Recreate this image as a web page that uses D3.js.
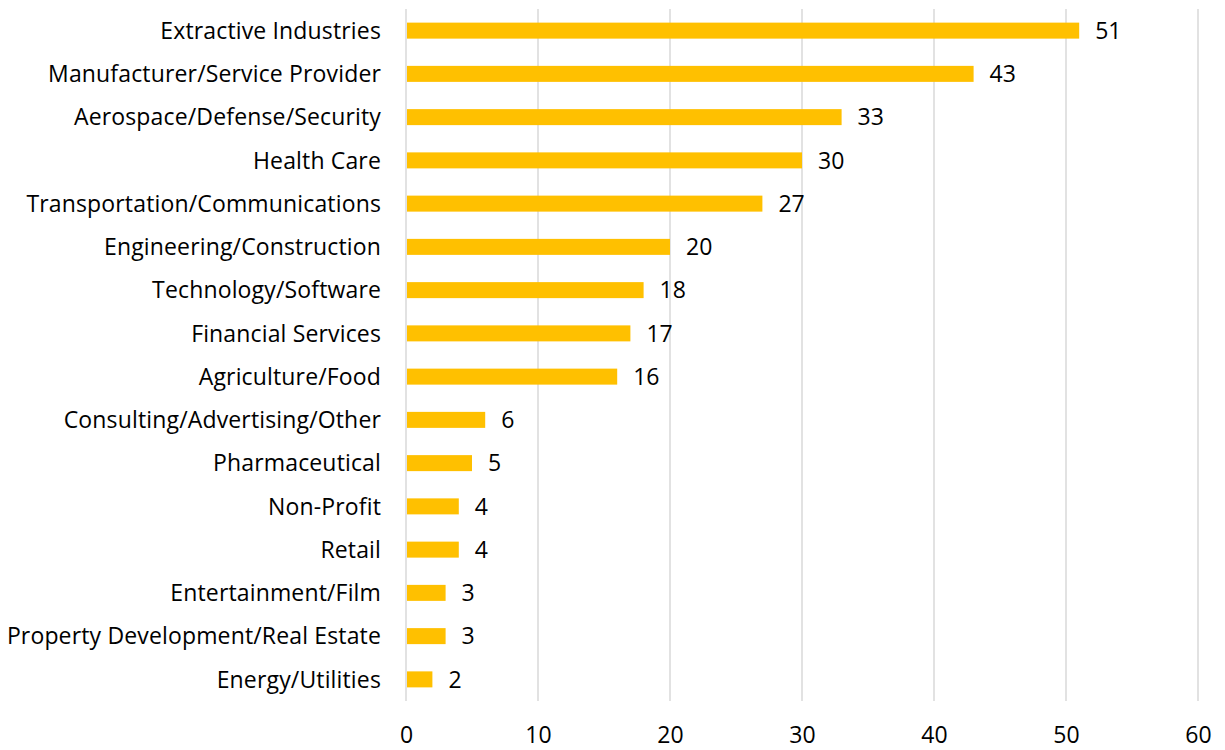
<!DOCTYPE html>
<html>
<head>
<meta charset="utf-8">
<script src="https://cdn.jsdelivr.net/npm/d3@7"></script>
<style>
  body { margin: 0; background: #fff; }
  text { font-family: "Open Sans", "Lato", sans-serif; fill: #000; }
</style>
</head>
<body>
<svg id="chart" width="1225" height="750"></svg>
<script>
// data
var categories = ["Extractive Industries", "Manufacturer/Service Provider", "Aerospace/Defense/Security",
  "Health Care", "Transportation/Communications", "Engineering/Construction", "Technology/Software",
  "Financial Services", "Agriculture/Food", "Consulting/Advertising/Other", "Pharmaceutical",
  "Non-Profit", "Retail", "Entertainment/Film", "Property Development/Real Estate", "Energy/Utilities"];
var values = [51, 43, 33, 30, 27, 20, 18, 17, 16, 6, 5, 4, 4, 3, 3, 2];
var xTicks = [0, 10, 20, 30, 40, 50, 60];

var svg = d3.select("#chart");
var plotLeft = 406, plotRight = 1198, plotTop = 9, plotBottom = 701;

var x = d3.scaleLinear().domain([0, 60]).range([plotLeft, plotRight]);
var y = d3.scaleBand().domain(categories).range([plotTop, plotBottom]).paddingInner(0.63).paddingOuter(0.315);

// gridlines
svg.append("g").selectAll("line")
  .data(xTicks)
  .enter().append("line")
  .attr("x1", function(d) { return x(d); })
  .attr("x2", function(d) { return x(d); })
  .attr("y1", plotTop)
  .attr("y2", plotBottom)
  .attr("stroke", "#d9d9d9")
  .attr("stroke-width", 1.5);

// bars
svg.append("g").selectAll("rect")
  .data(values)
  .enter().append("rect")
  .attr("x", x(0) + 1)
  .attr("y", function(d, i) { return y(categories[i]); })
  .attr("width", function(d) { return x(d) - x(0) - 1; })
  .attr("height", y.bandwidth())
  .attr("fill", "#ffc000");

// value labels
svg.append("g").selectAll("text")
  .data(values)
  .enter().append("text")
  .attr("x", function(d) { return x(d) + 16; })
  .attr("y", function(d, i) { return y(categories[i]) + y.bandwidth() / 2; })
  .attr("dy", "0.36em")
  .attr("font-size", 23)
  .text(function(d) { return d; });

// category labels
svg.append("g").selectAll("text")
  .data(categories)
  .enter().append("text")
  .attr("x", 381)
  .attr("y", function(d) { return y(d) + y.bandwidth() / 2; })
  .attr("dy", "0.36em")
  .attr("text-anchor", "end")
  .attr("font-size", 23)
  .attr("letter-spacing", 0.15)
  .text(function(d) { return d; });

// x axis labels
var xAxis = d3.axisBottom(x).tickValues(xTicks).tickSize(0).tickPadding(0);
var gx = svg.append("g").attr("transform", "translate(0,743)").call(xAxis);
gx.select(".domain").remove();
gx.selectAll("text")
  .attr("y", 0)
  .attr("dy", null)
  .attr("font-size", 23)
  .attr("font-family", "'Open Sans', Lato, sans-serif")
  .attr("fill", "#000");
</script>
</body>
</html>
